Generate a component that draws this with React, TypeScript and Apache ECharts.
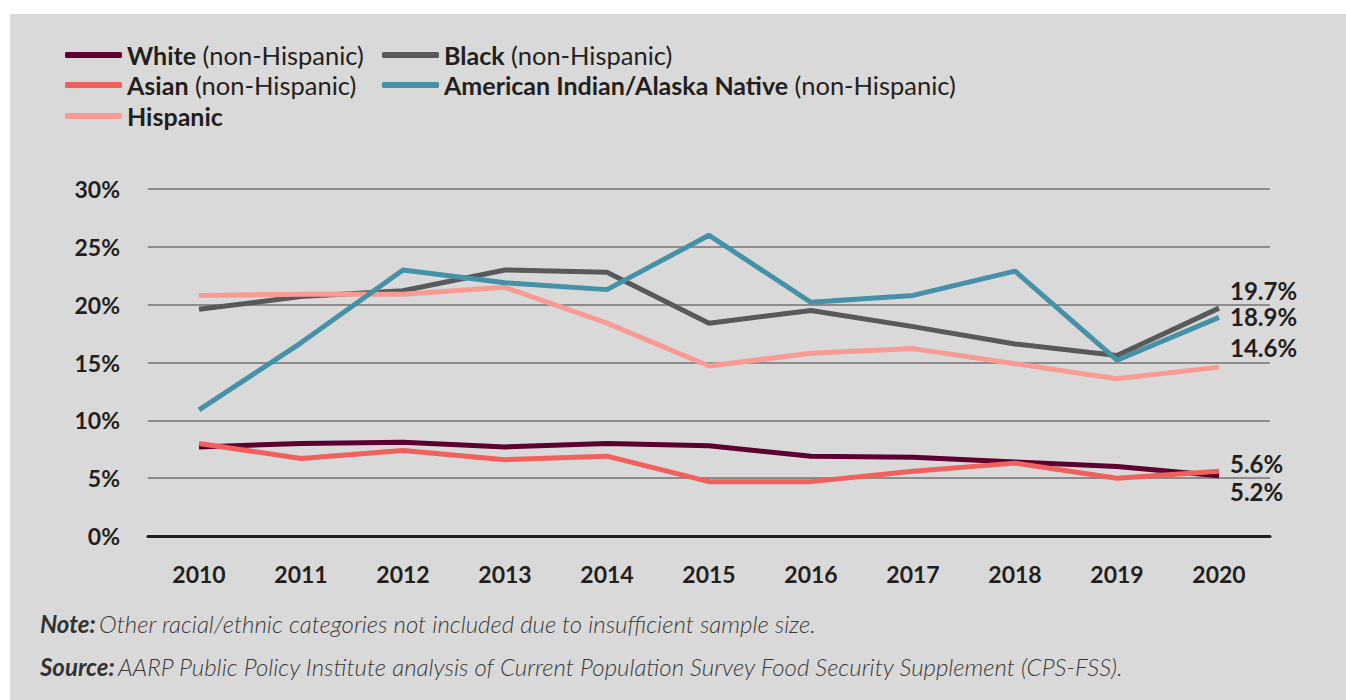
import React, { useEffect, useRef } from "react";
import * as echarts from "echarts";

const years = ["2010", "2011", "2012", "2013", "2014", "2015", "2016", "2017", "2018", "2019", "2020"];
const whiteVals = [7.7, 8.0, 8.1, 7.7, 8.0, 7.8, 6.9, 6.8, 6.4, 6.0, 5.2];
const blackVals = [19.6, 20.7, 21.2, 23.0, 22.8, 18.4, 19.5, 18.1, 16.6, 15.6, 19.7];
const asianVals = [8.0, 6.7, 7.4, 6.6, 6.9, 4.7, 4.7, 5.6, 6.3, 5.0, 5.6];
const aianVals = [10.9, 16.7, 23.0, 21.9, 21.3, 26.0, 20.2, 20.8, 22.9, 15.2, 18.9];
const hispanicVals = [20.8, 20.9, 20.9, 21.5, 18.4, 14.7, 15.8, 16.2, 14.9, 13.6, 14.6];
const yTicks = [0, 5, 10, 15, 20, 25, 30];

const FONT = "Lato, 'Noto Sans', sans-serif";
const INK = "#231f20";

export default function App() {
  const ref = useRef<HTMLDivElement>(null);
  useEffect(() => {
    if (!ref.current) return;
    const chart = echarts.init(ref.current, undefined, { renderer: "svg" });

    const mk = (name: string, vals: number[], color: string, dy: number) => ({
      name,
      type: "line",
      symbol: "none",
      lineStyle: { color, width: 5 },
      itemStyle: { color },
      z: 3,
      data: vals,
      endLabel: {
        show: true,
        distance: 5,
        offset: [6, dy],
        formatter: (p: any) => `${p.value}%`,
        fontFamily: FONT,
        fontWeight: "bold",
        fontSize: 24,
        lineHeight: 22,
        color: INK,
      },
    });

    const legendItem = (name: string, left: number, centerY: number) => ({
      data: [name],
      left,
      top: centerY - 14,
      padding: 0,
      icon: "roundRect",
      itemWidth: 57,
      itemHeight: 6,
      itemGap: 0,
      selectedMode: false,
      formatter: (n: string) => {
        const idx = n.indexOf(" (");
        if (idx < 0) return `{b|${n}}`;
        return `{b|${n.slice(0, idx)}}{n| ${n.slice(idx + 1)}}`;
      },
      textStyle: {
        fontFamily: FONT,
        fontSize: 25,
        lineHeight: 28,
        color: INK,
        rich: {
          b: { fontFamily: FONT, fontSize: 25, fontWeight: "bold", color: INK, lineHeight: 28 },
          n: { fontFamily: FONT, fontSize: 25.5, fontWeight: "normal", color: INK, lineHeight: 28 },
        },
      },
    });

    const noteRich = {
      b: { fontFamily: FONT, fontSize: 24, fontWeight: "bold", fontStyle: "italic", fill: "#333333" },
      n: { fontFamily: FONT, fontSize: 24, fontWeight: 300, fontStyle: "italic", fill: "#3a3a3a" },
    };

    chart.setOption({
      animation: false,
      backgroundColor: "transparent",
      grid: { left: 148, right: 76, top: 189, bottom: 164, containLabel: false },
      legend: [
        legendItem("White (non-Hispanic)", 65, 55),
        legendItem("Black (non-Hispanic)", 382, 55),
        legendItem("Asian (non-Hispanic)", 65, 85),
        legendItem("American Indian/Alaska Native (non-Hispanic)", 382, 85),
        legendItem("Hispanic", 65, 116),
      ],
      xAxis: {
        type: "category",
        data: years,
        boundaryGap: true,
        axisLine: { show: true, lineStyle: { color: INK, width: 3 } },
        axisTick: { show: false },
        axisLabel: {
          margin: 26,
          fontFamily: FONT,
          fontWeight: "bold",
          fontSize: 23,
          color: INK,
        },
      },
      yAxis: {
        type: "value",
        min: yTicks[0],
        max: yTicks[yTicks.length - 1],
        interval: 5,
        axisLine: { show: false },
        axisTick: { show: false },
        splitLine: { lineStyle: { color: "#8c8c8c", width: 2 } },
        axisLabel: {
          margin: 28,
          formatter: "{value}%",
          fontFamily: FONT,
          fontWeight: "bold",
          fontSize: 23,
          color: INK,
        },
      },
      graphic: [
        {
          type: "text",
          left: 40,
          top: 611,
          style: {
            text: "{b|Note:} {n|Other racial/ethnic categories not included due to insufficient sample size.}",
            rich: noteRich,
          },
        },
        {
          type: "text",
          left: 40,
          top: 654,
          style: {
            text: "{b|Source:} {n|AARP Public Policy Institute analysis of Current Population Survey Food Security Supplement (CPS-FSS).}",
            rich: noteRich,
          },
        },
      ],
      series: [
        mk("White (non-Hispanic)", whiteVals, "#5c0030", 16),
        mk("Black (non-Hispanic)", blackVals, "#58595b", -18),
        mk("Hispanic", hispanicVals, "#f79b94", -20),
        mk("American Indian/Alaska Native (non-Hispanic)", aianVals, "#4591a8", -1),
        mk("Asian (non-Hispanic)", asianVals, "#f0605d", -8),
      ],
    });
    return () => chart.dispose();
  }, []);

  return (
    <div style={{ position: "fixed", left: 0, top: 0, width: 1346, height: 700, background: "#ffffff" }}>
      <div style={{ position: "absolute", left: 10, top: 14, width: 1336, height: 686, background: "#d9d9d9" }} />
      <div ref={ref} style={{ position: "absolute", left: 0, top: 0, width: 1346, height: 700 }} />
    </div>
  );
}
